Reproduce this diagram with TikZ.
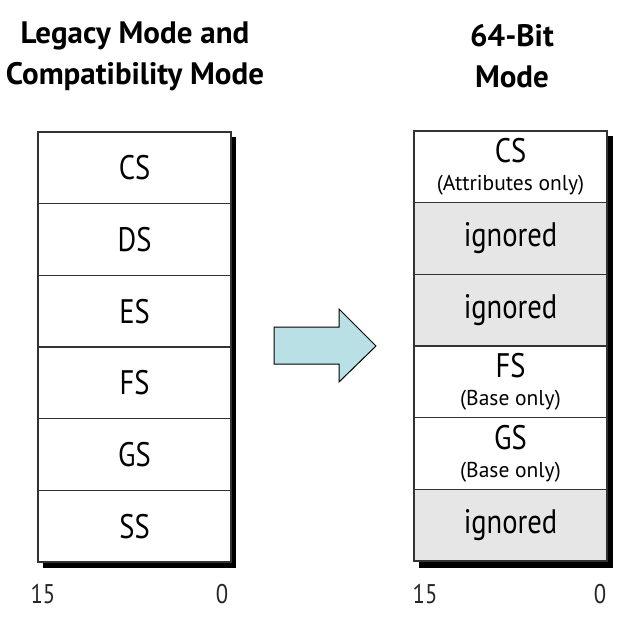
\documentclass[tikz,border=0pt]{standalone}
\usepackage{fontspec}
\setmainfont{PT Sans}
\newfontfamily\narrowfont{PT Sans}[FakeStretch=0.84]
\usetikzlibrary{positioning}

\definecolor{arrowfill}{RGB}{185,224,228}
\definecolor{cellgray}{RGB}{230,230,230}

\tikzset{
  reg/.style={
    draw=black!80,
    fill=white,
    line width=1.2pt,
    minimum width=193pt,
    minimum height=71.67pt,
    inner sep=0pt,
    outer sep=0pt,
    align=center,
    font=\narrowfont\fontsize{34}{36}\selectfont,
  },
  ignored/.style={
    reg,
    fill=cellgray,
  },
  heading/.style={
    align=center,
    font=\bfseries\fontsize{31}{41}\selectfont,
  },
  bitno/.style={
    anchor=base,
    inner sep=0pt,
    font=\narrowfont\fontsize{27}{28}\selectfont,
    text=black!85,
  },
}
\newcommand\notefont{\rmfamily\fontsize{21.5}{27}\selectfont}

\begin{document}
\begin{tikzpicture}[x=1pt, y=-1pt]
  \useasboundingbox (0,0) rectangle (636,638);

  % titles
  \node[heading] (lhead) at (135,56) {Legacy Mode and\\Compatibility Mode};
  \node[heading] (rhead) at (512,56) {64-Bit\\Mode};

  % shadows
  \fill (43,137) rectangle (236,568);
  \fill (419,136) rectangle (613,568);

  % legacy register stack
  \node[reg, anchor=north west] (l1) at (38,132) {CS};
  \foreach \name/\prev in {DS/1, ES/2, FS/3, GS/4, SS/5} {
    \pgfmathtruncatemacro\n{\prev+1}
    \node[reg, below=0pt of l\prev] (l\n) {\name};
  }

  % 64-bit register stack
  \node[reg, anchor=north west] (r1) at (414,131)
    {CS\\[-8pt]\notefont(Attributes only)};
  \node[ignored, below=0pt of r1] (r2) {ignored};
  \node[ignored, below=0pt of r2] (r3) {ignored};
  \node[reg, below=0pt of r3] (r4) {FS\\[-8pt]\notefont(Base only)};
  \node[reg, below=0pt of r4] (r5) {GS\\[-8pt]\notefont(Base only)};
  \node[ignored, below=0pt of r5] (r6) {ignored};

  % bit numbers
  \node[bitno] (l15) at (43,603) {15};
  \node[bitno] (l0) at (222,603) {0};
  \node[bitno] (r15) at (425,603) {15};
  \node[bitno] (r0) at (600,603) {0};

  % arrow
  \draw[fill=arrowfill, line width=1pt]
    (274,327) -- (339,327) -- (339,309) -- (376,346)
    -- (339,382) -- (339,364) -- (274,364) -- cycle;

\end{tikzpicture}
\end{document}
